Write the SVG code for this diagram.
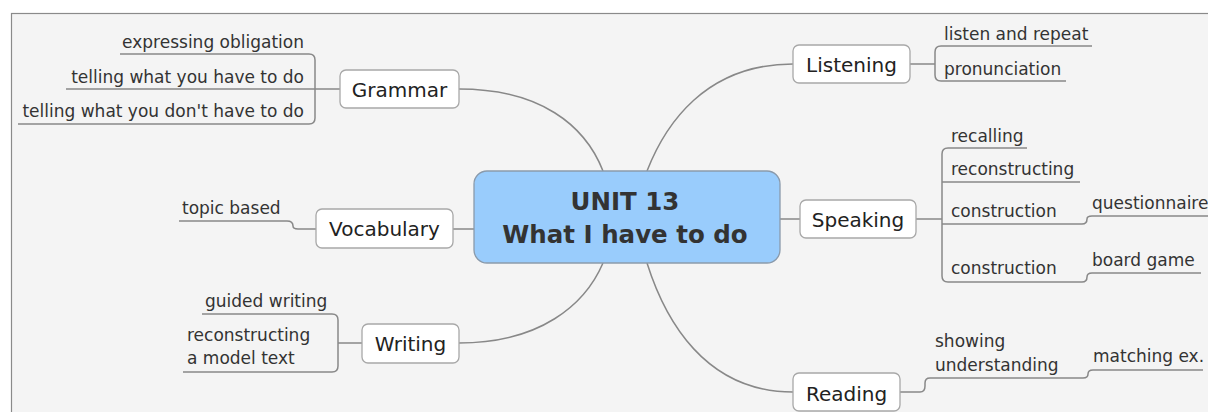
<svg xmlns="http://www.w3.org/2000/svg" width="1208" height="412" viewBox="0 0 1208 412">
<style>
.bg{fill:#f4f4f4;stroke:#8a8a8a;stroke-width:1.2}
.box{fill:#ffffff;stroke:#a8a8a8;stroke-width:1.3}
.center{fill:#99ccfc;stroke:#8a9aab;stroke-width:1.3}
.lbl{font-family:"DejaVu Sans",Verdana,sans-serif;font-size:20px;fill:#222;text-anchor:middle}
.ctr{font-family:"DejaVu Sans",Verdana,sans-serif;font-weight:bold;font-size:24.5px;fill:#333;text-anchor:middle}
.leaf{font-family:"DejaVu Sans",Verdana,sans-serif;font-size:17px;fill:#333}
.r{text-anchor:end}
.ln{fill:none;stroke:#888;stroke-width:1.5}
</style>
<rect x="0" y="0" width="1208" height="412" fill="#ffffff"/>
<rect class="bg" x="11.5" y="13.5" width="1220" height="420"/>
<g id="connectors">
<path class="ln" d="M459,89 C540,89 585,125 603,171"/>
<path class="ln" d="M793,64 C705,64 665,125 647,171"/>
<path class="ln" d="M780,219 H800"/>
<path class="ln" d="M453,229 H474"/>
<path class="ln" d="M459,343 C540,343 585,305 603,263"/>
<path class="ln" d="M793,392 C705,392 665,320 647,263"/>
<path class="ln" d="M120,54 H309 Q315,54 315,60 V118 Q315,124 309,124 H18"/>
<path class="ln" d="M66,89 H340"/>
<path class="ln" d="M1092,46 H941 Q935,46 935,52 V75 Q935,81 941,81 H1066"/>
<path class="ln" d="M910,64 H935"/>
<path class="ln" d="M1027,148 H948 Q942,148 942,154 V276 Q942,282 948,282 H1082 Q1087,282 1087,277 Q1087,273 1092,273 H1201"/>
<path class="ln" d="M942,182 H1080"/>
<path class="ln" d="M942,224 H1082 Q1087,224 1087,219 Q1087,216 1092,216 H1208"/>
<path class="ln" d="M916,219 H942"/>
<path class="ln" d="M179,221 H287 Q293,221 293,226 Q293,229 298,229 H316"/>
<path class="ln" d="M202,314 H332 Q338,314 338,320 V366 Q338,372 332,372 H183"/>
<path class="ln" d="M338,343 H362"/>
<path class="ln" d="M900,392 H920 Q925,392 925,386 V383 Q925,378 930,378 H1083 Q1088,378 1088,374 Q1088,370 1093,370 H1203"/>
</g>
<g id="center">
<rect class="center" x="474" y="171" width="306" height="92" rx="13"/>
<text class="ctr" x="625" y="210">UNIT 13</text>
<text class="ctr" x="625" y="243">What I have to do</text>
</g>
<g id="grammar">
<rect class="box" x="340" y="70" width="119" height="38" rx="6"/>
<text class="lbl" x="399.5" y="97">Grammar</text>
</g>
<g id="grammar-leaves">
<text class="leaf r" x="304" y="48">expressing obligation</text>
<text class="leaf r" x="304" y="83">telling what you have to do</text>
<text class="leaf r" x="304" y="117">telling what you don't have to do</text>
</g>
<g id="listening">
<rect class="box" x="793" y="45" width="117" height="38" rx="6"/>
<text class="lbl" x="851.5" y="72">Listening</text>
</g>
<g id="listening-leaves">
<text class="leaf" x="944" y="40">listen and repeat</text>
<text class="leaf" x="944" y="75">pronunciation</text>
</g>
<g id="speaking">
<rect class="box" x="800" y="200" width="116" height="38" rx="6"/>
<text class="lbl" x="858" y="227">Speaking</text>
</g>
<g id="speaking-leaves">
<text class="leaf" x="951" y="142">recalling</text>
<text class="leaf" x="951" y="175">reconstructing</text>
<text class="leaf" x="951" y="217">construction</text>
<text class="leaf" x="1092" y="209">questionnaire</text>
<text class="leaf" x="951" y="274">construction</text>
<text class="leaf" x="1092" y="266">board game</text>
</g>
<g id="vocabulary">
<rect class="box" x="316" y="209" width="137" height="39" rx="6"/>
<text class="lbl" x="384.5" y="236">Vocabulary</text>
</g>
<g id="vocabulary-leaves">
<text class="leaf" x="182" y="214">topic based</text>
</g>
<g id="writing">
<rect class="box" x="362" y="324" width="97" height="39" rx="6"/>
<text class="lbl" x="410.5" y="351">Writing</text>
</g>
<g id="writing-leaves">
<text class="leaf" x="205" y="307">guided writing</text>
<text class="leaf" x="187" y="341">reconstructing</text>
<text class="leaf" x="187" y="364">a model text</text>
</g>
<g id="reading">
<rect class="box" x="793" y="373" width="107" height="38" rx="6"/>
<text class="lbl" x="846.5" y="401">Reading</text>
</g>
<g id="reading-leaves">
<text class="leaf" x="935" y="347">showing</text>
<text class="leaf" x="935" y="371">understanding</text>
<text class="leaf" x="1093" y="362">matching ex.</text>
</g>
</svg>
